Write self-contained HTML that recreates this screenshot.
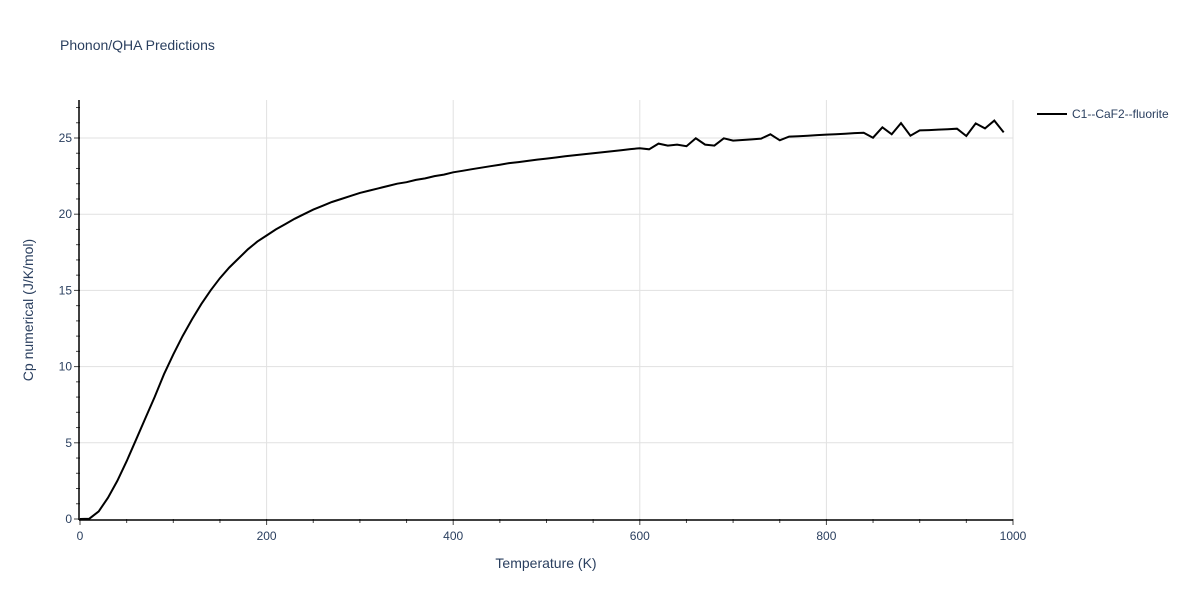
<!DOCTYPE html>
<html><head><meta charset="utf-8">
<style>
body{margin:0;background:#fff;font-family:"Liberation Sans",sans-serif;}
svg text{font-family:"Liberation Sans",sans-serif;fill:#2a3f5f;}
</style></head>
<body>
<svg width="1200" height="600" xmlns="http://www.w3.org/2000/svg">
<text x="60" y="50" font-size="14">Phonon/QHA Predictions</text>
<g id="grid"></g>
<g id="axes"></g>
<path id="line" fill="none" stroke="#000" stroke-width="2"/>
<text x="546" y="568" font-size="14" text-anchor="middle">Temperature (K)</text>
<text x="33" y="310" font-size="14" text-anchor="middle" transform="rotate(-90 33 310)">Cp numerical (J/K/mol)</text>
<g>
<line x1="1037" y1="114" x2="1067" y2="114" stroke="#000" stroke-width="2"/>
<text x="1072" y="118" font-size="12">C1--CaF2--fluorite</text>
</g>
</svg>
<script>
const temps=[0,10,20,30,40,50,60,70,80,90,100,110,120,130,140,150,160,170,180,190,200,210,220,230,240,250,260,270,280,290,300,310,320,330,340,350,360,370,380,390,400,410,420,430,440,450,460,470,480,490,500,510,520,530,540,550,560,570,580,590,600,610,620,630,640,650,660,670,680,690,700,710,720,730,740,750,760,770,780,790,800,810,820,830,840,850,860,870,880,890,900,910,920,930,940,950,960,970,980,990];
const cp=[0,0.02,0.5,1.4,2.5,3.8,5.2,6.6,8.0,9.5,10.8,12.0,13.1,14.1,15.0,15.8,16.5,17.1,17.7,18.2,18.6,19.0,19.35,19.7,20.0,20.3,20.55,20.8,21.0,21.2,21.4,21.55,21.7,21.85,22.0,22.1,22.25,22.35,22.5,22.6,22.75,22.85,22.95,23.05,23.15,23.25,23.35,23.42,23.5,23.58,23.65,23.72,23.8,23.87,23.93,24.0,24.07,24.13,24.2,24.27,24.33,24.26,24.63,24.5,24.57,24.46,24.98,24.57,24.5,24.98,24.83,24.87,24.91,24.96,25.24,24.85,25.09,25.12,25.15,25.19,25.22,25.25,25.28,25.32,25.35,25.02,25.7,25.24,25.98,25.15,25.5,25.52,25.55,25.58,25.61,25.13,25.96,25.63,26.14,25.37];
const xTicks=[0,200,400,600,800,1000];
const yTicks=[0,5,10,15,20,25];
const X0=80,X1=1013,Y0=519,Y1=100;
const xs=t=>X0+(t/1000)*(X1-X0);
const ys=v=>Y0-v*15.24;
const NS="http://www.w3.org/2000/svg";
const grid=document.getElementById('grid'),axes=document.getElementById('axes');
function mk(tag,attrs,parent){const e=document.createElementNS(NS,tag);for(const k in attrs)e.setAttribute(k,attrs[k]);parent.appendChild(e);return e;}
xTicks.forEach(t=>{
 if(t>0){const g=mk('line',{x1:xs(t),x2:xs(t),y1:Y1,y2:Y0,stroke:'#e1e1e1'},grid);
 
 }
 const l=mk('text',{x:xs(t),y:540,'font-size':12,'text-anchor':'middle'},axes);l.textContent=t;
 
 
});
for(let t=0;t<=1000;t+=50){mk('line',{x1:xs(t),x2:xs(t),y1:Y0,y2:Y0+(t%200==0?6:4),stroke:'#444'},axes);}
yTicks.forEach(v=>{
 if(v>0){const g=mk('line',{x1:X0,x2:X1,y1:ys(v),y2:ys(v),stroke:'#e1e1e1'},grid);
 
 }
 const l=mk('text',{x:72,y:ys(v)+4,'font-size':12,'text-anchor':'end'},axes);l.textContent=v;
 
 
});
for(let v=0;v<=27;v++){mk('line',{x1:X0-(v%5==0?6:4),x2:X0,y1:ys(v),y2:ys(v),stroke:'#444'},axes);}
mk('line',{x1:X0-1,x2:X0-1,y1:Y1,y2:Y0+1,stroke:'#000','stroke-width':1.5},axes);
mk('line',{x1:X0-1,x2:X1,y1:Y0+1,y2:Y0+1,stroke:'#000','stroke-width':1.5},axes);
document.getElementById('line').setAttribute('d',temps.map((t,i)=>(i?'L':'M')+xs(t).toFixed(1)+','+ys(cp[i]).toFixed(1)).join(''));
</script>
</body></html>
